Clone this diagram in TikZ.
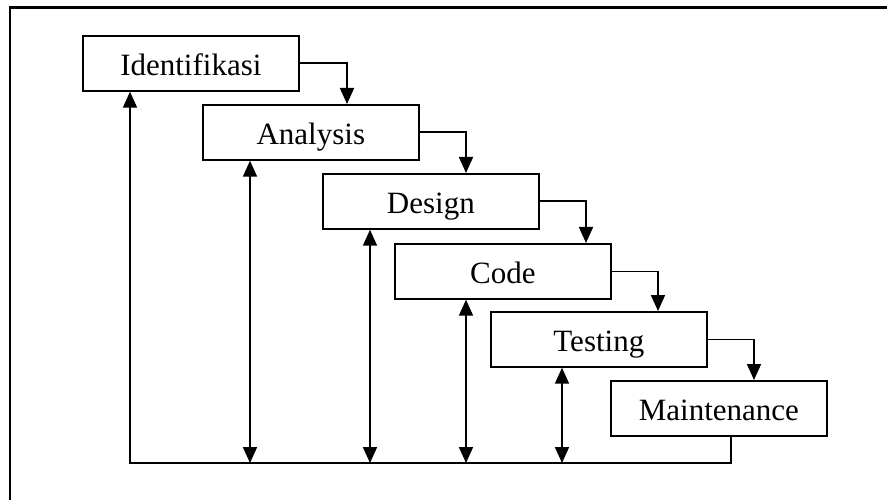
\documentclass[tikz,border=0pt]{standalone}
\usepackage{fontspec}
\setmainfont{Liberation Serif}
\usetikzlibrary{arrows.meta}

\tikzset{
  phase/.style={draw, line width=1.7pt, rectangle, minimum width=216pt,
    minimum height=55pt, inner sep=0pt, anchor=north west,
    text height=25pt, text depth=0pt,
    font=\fontsize{31}{37}\selectfont},
  flow/.style={line width=1.7pt, -{Triangle[width=14pt,length=16pt]}},
  twoway/.style={line width=1.7pt,
    {Triangle[width=14pt,length=16pt]}-{Triangle[width=14pt,length=16pt]}},
  frame/.style={line width=2.4pt}
}

\begin{document}
\begin{tikzpicture}[x=1pt,y=-1pt]
  \useasboundingbox (0,0) rectangle (887,500);

  % frame (top and left edges)
  \draw[frame] (10,500) -- (10,7.5) -- (887,7.5);

  % phases of the cascade
  \node[phase] (iden)  at (82,35)   {Identifikasi};
  \node[phase] (anal)  at (202,104) {Analysis};
  \node[phase] (desg)  at (322,173) {Design};
  \node[phase] (code)  at (394,243) {Code};
  \node[phase] (test)  at (490,311) {Testing};
  \node[phase] (maint) at (610,380) {Maintenance};

  % common return line
  \coordinate (base) at (0,463);

  % forward flow between phases
  \draw[flow] (iden.east) -| ([xshift=145pt]anal.north west);
  \draw[flow] (anal.east) -| ([xshift=144pt]desg.north west);
  \draw[flow] (desg.east) -| ([xshift=192pt]code.north west);
  \draw[flow] (code.east) -| ([xshift=168pt]test.north west);
  \draw[flow] (test.east) -| ([xshift=144pt]maint.north west);

  % feedback back to identification
  \draw[flow] ([xshift=121pt]maint.south west)
      |- ([xshift=48pt]iden.south west |- base)
      -- ([xshift=48pt]iden.south west);

  % two-way links between each phase and the return line
  \draw[twoway] ([xshift=48pt]anal.south west) -- ([xshift=48pt]anal.south west |- base);
  \draw[twoway] ([xshift=48pt]desg.south west) -- ([xshift=48pt]desg.south west |- base);
  \draw[twoway] ([xshift=72pt]code.south west) -- ([xshift=72pt]code.south west |- base);
  \draw[twoway] ([xshift=72pt]test.south west) -- ([xshift=72pt]test.south west |- base);
\end{tikzpicture}
\end{document}
